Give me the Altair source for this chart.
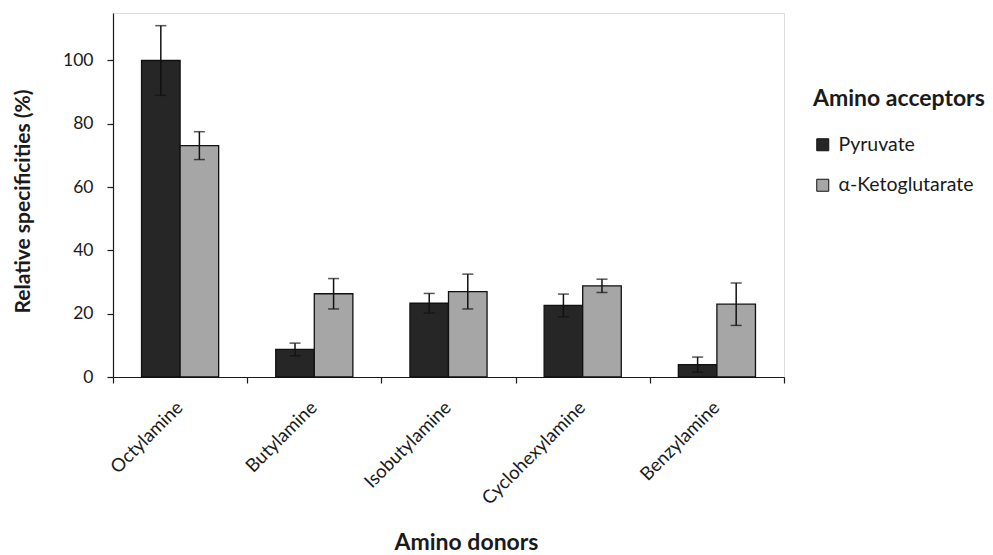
import altair as alt
import pandas as pd

# Amino donors on the x axis, two amino acceptors per donor
donors = ["Octylamine", "Butylamine", "Isobutylamine", "Cyclohexylamine", "Benzylamine"]
acceptors = ["Pyruvate", "α-Ketoglutarate"]

# Relative specificities (%) and their error (±)
pyruvate = [100.0, 8.7, 23.3, 22.6, 3.9]
pyruvate_err = [11.0, 2.0, 3.1, 3.6, 2.4]
ketoglutarate = [73.1, 26.3, 27.0, 28.8, 23.0]
ketoglutarate_err = [4.4, 4.8, 5.5, 2.1, 6.7]

y_ticks = [0, 20, 40, 60, 80, 100]

rows = []
for i, d in enumerate(donors):
    for acc, vals, errs in ((acceptors[0], pyruvate, pyruvate_err),
                            (acceptors[1], ketoglutarate, ketoglutarate_err)):
        rows.append({"donor": d, "acceptor": acc, "value": vals[i],
                     "lo": vals[i] - errs[i], "hi": vals[i] + errs[i]})
df = pd.DataFrame(rows)

FONT = "Lato"
INK = "#1a1a1a"

x_enc = alt.X(
    "donor:N", sort=donors,
    scale=alt.Scale(paddingInner=0, paddingOuter=0),
    axis=alt.Axis(
        title="Amino donors", titleFontSize=23, titleFontWeight="bold",
        titleFont=FONT, titleColor=INK, titleX=353, titleY=172,
        titleBaseline="alphabetic", titleAnchor="middle", titleAlign="center",
        labelAngle=-45, labelAlign="right", labelBaseline="middle",
        labelFontSize=18.5, labelFont=FONT, labelColor=INK,
        labelPadding=21, labelOffset=-1,
        tickBand="extent", tickSize=6, tickColor=INK, tickWidth=1.2,
        domainColor=INK, domainWidth=1.2, grid=False,
    ),
)
xoff_enc = alt.XOffset("acceptor:N", sort=acceptors,
                       scale=alt.Scale(paddingInner=0, paddingOuter=0.74))

y_scale = alt.Scale(domain=[0, 115], nice=False)

bars = alt.Chart(df).mark_bar(stroke="#111111", strokeWidth=1.3).encode(
    x=x_enc,
    xOffset=xoff_enc,
    y=alt.Y(
        "value:Q", scale=y_scale,
        axis=alt.Axis(
            title="Relative specificities (%)", titleFontSize=21,
            titleFontWeight="bold", titleFont=FONT, titleColor=INK,
            titleX=-80, titleY=188, titleAnchor="middle", titleAlign="center",
            values=y_ticks, labelFontSize=17.5, labelFont=FONT, labelColor=INK,
            labelPadding=14, tickSize=6, tickColor=INK, tickWidth=1.2,
            domainColor=INK, domainWidth=1.2, grid=False,
        ),
    ),
    color=alt.Color(
        "acceptor:N", sort=acceptors,
        scale=alt.Scale(domain=acceptors, range=["#262626", "#a6a6a6"]),
        legend=alt.Legend(
            title="Amino acceptors", orient="none", legendX=700, legendY=75,
            titleFontSize=23, titleFontWeight="bold", titleFont=FONT,
            titleColor=INK, titlePadding=24,
            labelFontSize=19.5, labelFont=FONT, labelColor=INK, labelOffset=6,
            symbolType="square", symbolSize=144, symbolStrokeColor="#111111",
            symbolStrokeWidth=1, symbolOpacity=1, rowPadding=19.5,
        ),
    ),
)

err_rule = alt.Chart(df).mark_rule(color="#111111", strokeWidth=1.5).encode(
    x=alt.X("donor:N", sort=donors), xOffset=xoff_enc,
    y=alt.Y("lo:Q", scale=y_scale), y2="hi:Q",
)
cap_lo = alt.Chart(df).mark_tick(color="#111111", thickness=1.5, size=11).encode(
    x=alt.X("donor:N", sort=donors), xOffset=xoff_enc,
    y=alt.Y("lo:Q", scale=y_scale),
)
cap_hi = alt.Chart(df).mark_tick(color="#111111", thickness=1.5, size=11).encode(
    x=alt.X("donor:N", sort=donors), xOffset=xoff_enc,
    y=alt.Y("hi:Q", scale=y_scale),
)

chart = alt.layer(bars, err_rule, cap_lo, cap_hi).properties(
    width=671, height=364,
    autosize=alt.AutoSizeParams(type="none"),
    padding={"left": 113, "top": 13, "right": 209, "bottom": 178},
).configure_view(stroke=None).configure(background="white")

chart.save("out.html", embed_options={"renderer": "svg", "actions": False})
